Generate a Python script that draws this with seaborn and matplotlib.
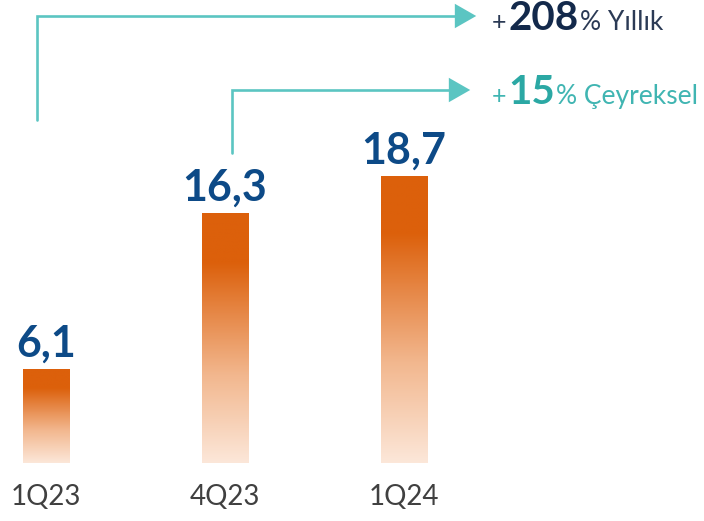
import numpy as np
import pandas as pd
import seaborn as sns
import matplotlib.pyplot as plt
from matplotlib.colors import LinearSegmentedColormap
from matplotlib.patches import FancyArrowPatch

quarters = ["1Q23", "4Q23", "1Q24"]
values = [6.1, 16.3, 18.7]
value_labels = ["6,1", "16,3", "18,7"]
yoy_pct = "208"
yoy_text = "% Yıllık"
qoq_pct = "15"
qoq_text = "% Çeyreksel"

W, H = 704, 521
TEAL = "#5BC5C2"
NAVY = "#0D4A87"


def fig_px(x, y):
    # pixel position (from top-left) -> figure fraction
    return x / W, 1 - y / H


sns.set_theme(style="white")
plt.rcParams["font.family"] = ["Lato", "DejaVu Sans"]

fig = plt.figure(figsize=(W / 100, H / 100), dpi=100)
ax = fig.add_axes([0, 0, 1, 1])

df = pd.DataFrame({"quarter": quarters, "value": values})
sns.barplot(data=df, x="quarter", y="value", ax=ax, width=0.257,
            color="#DC600B", saturation=1)

# vertical gradient inside every bar
cmap = LinearSegmentedColormap.from_list(
    "bar", [(0.0, "#FCE7D9"), (0.35, "#F2B78E"), (0.6, "#E68746"),
            (0.8, "#DC600B"), (1.0, "#DC600B")])
grad = np.linspace(0, 1, 256).reshape(-1, 1)
for patch in list(ax.patches):
    x0, y0 = patch.get_x(), patch.get_y()
    w, h = patch.get_width(), patch.get_height()
    im = ax.imshow(grad, cmap=cmap, origin="lower", aspect="auto",
                   extent=[x0, x0 + w, y0, y0 + h], zorder=2)
    im.set_clip_path(patch)
    patch.set_facecolor("none")
    patch.set_edgecolor("none")

ax.set_xlim(-0.257, 3.676)
ax.set_ylim(-3.78, 30.16)
ax.axis("off")

for i, (v, lab) in enumerate(zip(values, value_labels)):
    ax.text(i, v + 0.35, lab, ha="center", va="bottom", fontsize=31,
            fontweight="bold", color=NAVY)
    ax.text(i, -2.21, quarters[i], ha="center", va="center", fontsize=20,
            color="#404040")


# elbow arrows
def elbow(x, y_start, y_top, x_end):
    xs = [fig_px(x, y_start)[0], fig_px(x, y_top)[0], fig_px(x_end - 14, y_top)[0]]
    ys = [fig_px(x, y_start)[1], fig_px(x, y_top)[1], fig_px(x_end - 14, y_top)[1]]
    fig.add_artist(plt.Line2D(xs, ys, color=TEAL, lw=1.9,
                              solid_joinstyle="miter"))
    fig.add_artist(FancyArrowPatch(
        fig_px(x_end - 16, y_top), fig_px(x_end, y_top),
        transform=fig.transFigure, arrowstyle="-|>,head_length=0.7,head_width=0.4",
        mutation_scale=22, color=TEAL, lw=0))


elbow(37, 120, 16, 479)
elbow(232, 153, 90, 473)

# growth annotations, composed piece by piece
fig.canvas.draw()
renderer = fig.canvas.get_renderer()


def line_of_text(x, y, pieces):
    for s, size, weight, color, gap in pieces:
        t = fig.text(*fig_px(x, y), s, fontsize=size, fontweight=weight,
                     color=color, va="baseline", ha="left")
        bb = t.get_window_extent(renderer)
        x += bb.width + gap


line_of_text(492, 30, [("+", 18, "normal", "#2B3A55", 2),
                       (yoy_pct, 29, "bold", "#13294B", 1),
                       (yoy_text, 19, "normal", "#2B3A55", 0)])
line_of_text(492, 104, [("+", 18, "normal", "#40B5B2", 2),
                        (qoq_pct, 29, "bold", "#2BA8A4", 1),
                        (qoq_text, 19, "normal", "#40B5B2", 0)])

fig.savefig("out.png", dpi=100)
